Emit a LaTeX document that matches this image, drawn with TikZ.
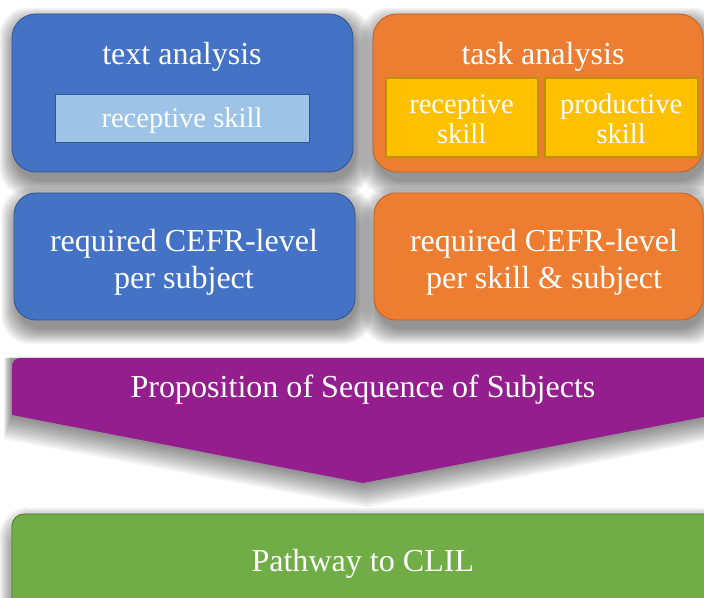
\documentclass[tikz,border=0pt]{standalone}
\usepackage{fontspec}
\setmainfont{Liberation Serif}
\usepackage{xcolor}
\usepackage{tikz}
\usetikzlibrary{calc,backgrounds}
\definecolor{boxblue}{HTML}{4472C4}
\definecolor{lightblue}{HTML}{9DC3E6}
\definecolor{boxorange}{HTML}{ED7D31}
\definecolor{skillyellow}{HTML}{FFC000}
\definecolor{arrowpurple}{HTML}{951E8F}
\definecolor{boxgreen}{HTML}{70AD47}
\tikzset{
  bigbox/.style={rounded corners=0.6cm,line width=0.6pt},
  skillbox/.style={fill=skillyellow,draw=skillyellow!75!black,line width=0.8pt,
      minimum height=1.975cm},
  bigtext/.style={text=white,align=center,
      font=\fontsize{22.8}{26.3}\selectfont},
  smalltext/.style={text=white,align=center,
      font=\fontsize{20.3}{21.3}\selectfont}
}
\newcommand{\castshade}[1]{%
  \foreach \k in {1,...,10}{
    \pgfmathsetmacro{\grow}{0.4-0.04*\k}
    \fill[black,opacity=0.05,rounded corners=0.7cm]
      ($(#1.south west)+(0.06-\grow,-0.22-\grow)$) rectangle
      ($(#1.north east)+(0.06+\grow,-0.22+\grow)$);
  }}
\begin{document}
\begin{tikzpicture}
      \useasboundingbox (0,0) rectangle (17.6,14.95);
      \clip (0,0) rectangle (17.6,14.95);
      \node[bigbox,fill=boxblue,draw=boxblue!75!black,
        minimum width=8.525cm,minimum height=3.95cm] (textbox) at (4.5625,12.625) {};
      \node[bigtext,anchor=base] (texttitle) at (4.55,13.325) {text analysis};
      \node[fill=lightblue,draw=boxblue!75!black,line width=0.6pt,
        minimum width=6.35cm,minimum height=1.2cm] (textskill) at (4.55,12.0) {};
      \node[smalltext,anchor=base] (textskilltext) at (4.55,11.75) {receptive skill};
      \node[bigbox,fill=boxorange,draw=boxorange!80!black,
        minimum width=8.25cm,minimum height=3.95cm] (taskbox) at (13.45,12.625) {};
      \node[bigtext,anchor=base] (tasktitle) at (13.575,13.325) {task analysis};
      \node[skillbox,minimum width=3.8cm] (taskreceptive) at (11.55,12.0125) {};
      \node[skillbox,minimum width=3.825cm] (taskproductive) at (15.5375,12.0125) {};
      \node[smalltext] (receptivetext) at (11.54,11.97) {receptive\\skill};
      \node[smalltext] (productivetext) at (15.53,11.97) {productive\\skill};
      \node[bigbox,rounded corners=0.55cm,fill=boxblue,draw=boxblue!75!black,
        minimum width=8.525cm,minimum height=3.175cm] (subjectlevel) at (4.6125,8.5375) {};
      \node[bigtext] (subjecttext) at (4.6,8.4) {required CEFR-level\\per subject};
      \node[bigbox,rounded corners=0.55cm,fill=boxorange,draw=boxorange!80!black,
        minimum width=8.225cm,minimum height=3.175cm] (skilllevel) at (13.4625,8.5375) {};
      \node[bigtext] (skilltext) at (13.6,8.4) {required CEFR-level\\per skill \& subject};
      \fill[arrowpurple] (9.075,2.875) -- (0.3,4.575)
        [rounded corners=0.2cm] -- (0.3,6.0) [sharp corners] -- (17.85,6.0)
        -- (17.85,4.575) -- cycle;
      \node[bigtext,anchor=base] (sequence) at (9.075,5.0)
        {Proposition of Sequence of Subjects};
      \node[bigbox,rounded corners=0.3cm,fill=boxgreen,draw=boxgreen!70!black,
        minimum width=17.6cm,minimum height=2.6cm] (pathwaybox) at (9.1,0.8) {};
      \node[bigtext,anchor=base] (pathway) at (9.07,0.65) {Pathway to CLIL};
      \begin{scope}[on background layer]
        \fill[white] (0,0) rectangle (17.6,14.95);
        \castshade{textbox}
        \castshade{taskbox}
        \castshade{subjectlevel}
        \castshade{skilllevel}
        \castshade{pathwaybox}
        \foreach \k in {1,...,10}
          \fill[black,opacity=0.05] (9.075+0.01*\k,2.875-0.06*\k)
            -- (0.3-0.02*\k,4.575-0.06*\k) -- (0.3-0.02*\k,6.0)
            -- (17.85,6.0) -- (17.85,4.575-0.06*\k) -- cycle;
      \end{scope}
\end{tikzpicture}
\end{document}
